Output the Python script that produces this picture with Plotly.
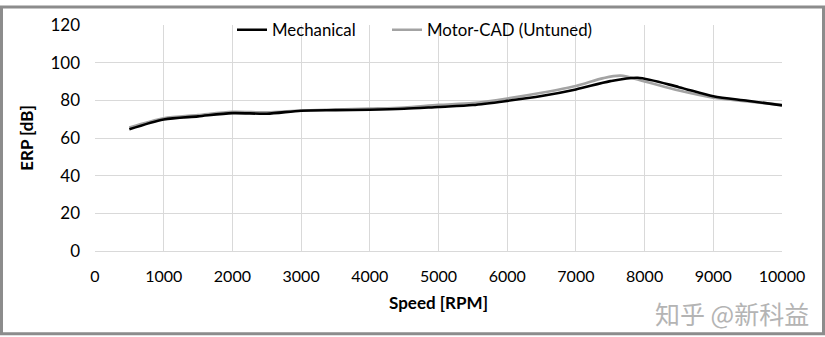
import plotly.graph_objects as go

# Speed sweep (RPM) and ERP levels (dB)
speed = [500, 1000, 1500, 2000, 2500, 3000, 3500, 4000, 4500, 5000, 5500,
         6000, 6500, 7000, 7500, 7900, 8500, 9000, 9500, 10000]
mechanical = [64.6, 69.8, 71.5, 73.2, 72.9, 74.5, 74.8, 75.0, 75.5, 76.5, 77.5,
              79.7, 82.3, 85.8, 90.2, 92.0, 87.0, 82.2, 79.8, 77.3]

speed_mc = [500, 1000, 1500, 2000, 2500, 3000, 3500, 4000, 4500, 5000, 5500,
            6000, 6500, 7000, 7400, 7650, 8000, 8500, 9000, 9500, 10000]
motorcad = [65.6, 70.5, 72.2, 73.9, 73.6, 74.6, 75.1, 75.6, 76.2, 77.6, 78.6,
            81.0, 84.0, 87.6, 91.8, 93.1, 90.0, 85.2, 81.4, 79.4, 77.6]

x_ticks = list(range(0, 10001, 1000))
y_ticks = list(range(0, 121, 20))

W, H = 825, 337
L, R, T, B = 95, 43, 20, 86
pw, ph = W - L - R, H - T - B

font = "Lato, 'Open Sans', sans-serif"

fig = go.Figure()
fig.add_trace(go.Scatter(x=speed_mc, y=motorcad, mode="lines", name="Motor-CAD (Untuned)",
                         legend="legend2",
                         line=dict(color="#a3a3a3", width=2.6, shape="spline", smoothing=0.8)))
fig.add_trace(go.Scatter(x=speed, y=mechanical, mode="lines", name="Mechanical",
                         legend="legend",
                         line=dict(color="#000000", width=2.6, shape="spline", smoothing=0.8)))

legend_style = dict(orientation="h", xanchor="left", y=1 - 5 / ph, yanchor="middle",
                    bgcolor="rgba(0,0,0,0)", font=dict(size=16.8), itemwidth=30)

fig.update_layout(
    width=W, height=H,
    margin=dict(l=L, r=R, t=T, b=B),
    paper_bgcolor="white", plot_bgcolor="white",
    font=dict(family=font, size=16, color="#000000"),
    showlegend=True,
    legend=dict(x=(232 - L) / pw, **legend_style),
    legend2=dict(x=(387 - L) / pw, **legend_style),
    xaxis=dict(range=[0, 10000], tickvals=x_ticks, ticktext=[str(v) for v in x_ticks],
               showgrid=True, gridcolor="#d9d9d9", gridwidth=1,
               showline=True, linecolor="#d9d9d9", linewidth=1, zeroline=False,
               ticks="", ticklabelstandoff=11,
               title=dict(text="<b>Speed [RPM]</b>", font=dict(size=17), standoff=12)),
    yaxis=dict(range=[0, 120], tickvals=y_ticks, ticktext=[str(v) for v in y_ticks],
               showgrid=True, gridcolor="#d9d9d9", gridwidth=1,
               showline=False, zeroline=False, ticks="", ticklabelstandoff=14,
               tickfont=dict(size=17),
               title=dict(text="<b>ERP [dB]</b>", font=dict(size=17), standoff=12)),
    shapes=[dict(type="rect", xref="paper", yref="paper",
                 x0=-(L - 1.5) / pw, x1=1 + (R - 1.5) / pw,
                 y0=-(B - 1.5) / ph, y1=1 + (T - 1.5) / ph,
                 line=dict(color="#8c8c8c", width=3), layer="above")],
    annotations=[dict(text="知乎 @新科益", xref="paper", yref="paper",
                      x=1 + 29 / pw, y=-(314 - T - ph) / ph, xanchor="right", yanchor="middle",
                      showarrow=False,
                      font=dict(family="'Noto Sans CJK SC', sans-serif", size=25, color="#b4b4b4"))],
)

fig.write_html("out.html")
